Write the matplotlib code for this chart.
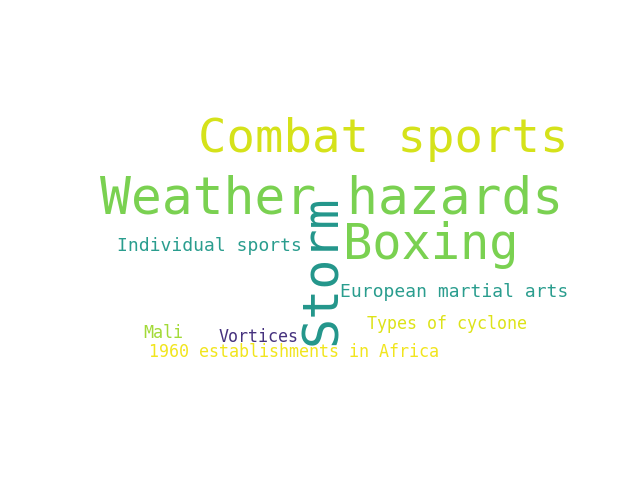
import matplotlib
matplotlib.use("Agg")
import matplotlib.pyplot as plt

words = ["Combat sports", "Weather hazards", "Boxing", "Storm", "Individual sports",
         "European martial arts", "Types of cyclone", "Mali", "Vortices",
         "1960 establishments in Africa"]
sizes = [34, 37, 35, 36, 13, 13, 12, 12, 12, 12]
colors = ["#d5e21a", "#7ad151", "#7ad151", "#23968b", "#2a9d8e",
          "#2a9d8e", "#dde318", "#a2da37", "#46327e", "#f1e51d"]
# layout of the cloud (pixels, left/centre anchor)
xs = [198, 100, 343, 322, 117, 340, 367, 143, 219, 149]
ys = [139, 199, 245, 270, 246, 292, 324, 333, 337, 352]
rot = [0, 0, 0, 90, 0, 0, 0, 0, 0, 0]

fig = plt.figure(figsize=(6.4, 4.8), dpi=100)
ax = fig.add_axes([0, 0, 1, 1])
ax.set_xlim(0, 640)
ax.set_ylim(480, 0)
ax.axis("off")
for w, s, c, x, y, r in zip(words, sizes, colors, xs, ys, rot):
    ax.text(x, y, w, fontsize=s, color=c, family="DejaVu Sans Mono",
            rotation=r, ha="center" if r else "left", va="center")
fig.savefig("out.png")
